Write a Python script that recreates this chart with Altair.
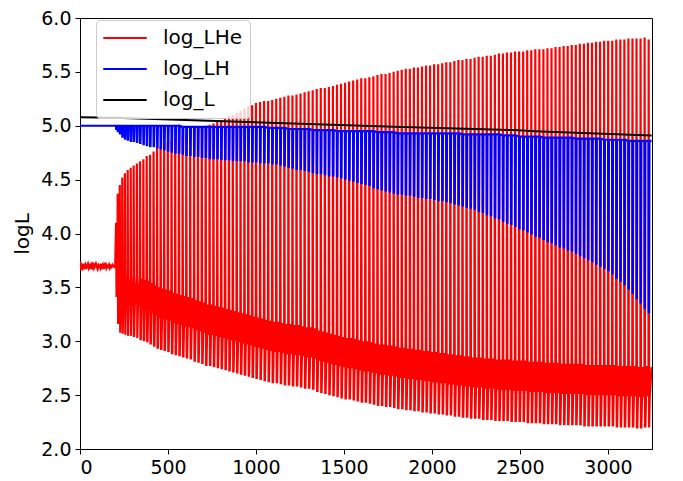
import altair as alt
import pandas as pd

SERIES = ["log_LHe", "log_LH", "log_L"]
COLORS = ["#ff0000", "#0000ff", "#000000"]

x_ticks = [0, 500, 1000, 1500, 2000, 2500, 3000]
y_ticks = [2.0, 2.5, 3.0, 3.5, 4.0, 4.5, 5.0, 5.5, 6.0]
end_step = 3248

# quiescent phase before the first thermal pulse
quiet_step = [0, 5, 10, 15, 20, 25, 30, 35, 40, 45, 50, 55, 60, 65, 70, 75, 80, 85, 90, 95,
              100, 105, 110, 115, 120, 125, 130, 135, 140, 145, 150, 155, 160, 165, 170, 175,
              180, 185, 190, 195, 200]
quiet_he = [3.74, 3.66, 3.70, 3.68, 3.72, 3.69, 3.71, 3.67, 3.70, 3.72, 3.68, 3.70, 3.67, 3.71,
            3.69, 3.73, 3.68, 3.70, 3.72, 3.69, 3.67, 3.71, 3.70, 3.68, 3.72, 3.69, 3.71, 3.67,
            3.70, 3.73, 3.68, 3.70, 3.69, 3.71, 3.68, 3.70, 3.69, 3.71, 3.70, 3.69, 3.70]
quiet_h_step = [0, 100, 200]
quiet_h = [5.00, 5.00, 5.00]

# total luminosity
lum_step = [0, 200, 950, 1786, 2468, 2582, 3248]
lum = [5.08, 5.075, 5.035, 4.99, 4.96, 4.95, 4.91]

# thermal pulses
pulse_step = [
    205, 214, 226, 240, 255, 271, 288, 305, 323, 341,
    360, 379, 398, 418, 438, 458, 478, 499, 520, 541,
    562, 583, 604, 626, 648, 670, 692, 714, 736, 758,
    780, 802, 824, 846, 868, 890, 912, 934, 956, 978,
    1000, 1023, 1046, 1069, 1092, 1115, 1138, 1161, 1184, 1207,
    1230, 1253, 1276, 1299, 1322, 1345, 1368, 1391, 1414, 1437,
    1460, 1483, 1506, 1529, 1552, 1575, 1598, 1621, 1644, 1667,
    1690, 1713, 1736, 1759, 1782, 1805, 1828, 1851, 1874, 1897,
    1920, 1943, 1966, 1989, 2012, 2035, 2058, 2081, 2104, 2127,
    2150, 2173, 2196, 2219, 2242, 2265, 2288, 2311, 2334, 2357,
    2380, 2403, 2426, 2449, 2472, 2495, 2518, 2541, 2564, 2587,
    2610, 2633, 2656, 2679, 2702, 2725, 2748, 2771, 2794, 2817,
    2840, 2863, 2886, 2909, 2932, 2955, 2978, 3001, 3024, 3047,
    3070, 3093, 3116, 3139, 3162, 3185, 3208, 3231]

he_peak = [
    4.10, 4.37, 4.45, 4.52, 4.56, 4.59, 4.61, 4.63, 4.65, 4.67,
    4.69, 4.72, 4.73, 4.76, 4.80, 4.81, 4.83, 4.85, 4.86, 4.88,
    4.89, 4.91, 4.92, 4.94, 4.95, 4.97, 4.98, 5.00, 5.01, 5.02,
    5.04, 5.05, 5.07, 5.09, 5.10, 5.12, 5.14, 5.16, 5.18, 5.19,
    5.21, 5.22, 5.23, 5.23, 5.24, 5.25, 5.26, 5.27, 5.28, 5.28,
    5.29, 5.30, 5.31, 5.32, 5.33, 5.34, 5.35, 5.35, 5.36, 5.37,
    5.38, 5.39, 5.40, 5.41, 5.42, 5.43, 5.44, 5.44, 5.45, 5.46,
    5.47, 5.48, 5.48, 5.49, 5.50, 5.51, 5.52, 5.53, 5.53, 5.54,
    5.54, 5.55, 5.56, 5.56, 5.57, 5.57, 5.58, 5.59, 5.59, 5.60,
    5.61, 5.61, 5.62, 5.62, 5.63, 5.64, 5.64, 5.65, 5.65, 5.66,
    5.67, 5.67, 5.68, 5.68, 5.69, 5.69, 5.69, 5.70, 5.70, 5.71,
    5.71, 5.71, 5.72, 5.72, 5.73, 5.73, 5.74, 5.74, 5.75, 5.75,
    5.76, 5.76, 5.77, 5.77, 5.78, 5.78, 5.79, 5.79, 5.79, 5.80,
    5.80, 5.80, 5.81, 5.81, 5.81, 5.81, 5.82, 5.80]

he_min = [
    3.41, 3.16, 3.08, 3.07, 3.06, 3.05, 3.05, 3.04, 3.03, 3.02,
    3.01, 3.00, 2.98, 2.96, 2.94, 2.93, 2.92, 2.91, 2.89, 2.88,
    2.87, 2.86, 2.85, 2.84, 2.82, 2.81, 2.80, 2.78, 2.78, 2.77,
    2.76, 2.75, 2.74, 2.73, 2.72, 2.71, 2.70, 2.69, 2.68, 2.67,
    2.66, 2.65, 2.64, 2.63, 2.62, 2.62, 2.61, 2.60, 2.60, 2.59,
    2.59, 2.58, 2.57, 2.57, 2.56, 2.54, 2.53, 2.52, 2.51, 2.50,
    2.49, 2.48, 2.47, 2.47, 2.46, 2.45, 2.44, 2.44, 2.43, 2.42,
    2.41, 2.41, 2.40, 2.40, 2.39, 2.38, 2.38, 2.37, 2.37, 2.36,
    2.36, 2.35, 2.35, 2.34, 2.34, 2.33, 2.33, 2.32, 2.32, 2.31,
    2.31, 2.30, 2.30, 2.29, 2.29, 2.29, 2.28, 2.28, 2.28, 2.27,
    2.27, 2.27, 2.27, 2.26, 2.26, 2.26, 2.26, 2.25, 2.25, 2.25,
    2.25, 2.24, 2.24, 2.24, 2.24, 2.23, 2.23, 2.23, 2.23, 2.23,
    2.23, 2.22, 2.22, 2.22, 2.22, 2.22, 2.22, 2.22, 2.22, 2.21,
    2.21, 2.21, 2.21, 2.21, 2.20, 2.20, 2.21, 2.20]

he_quiet_lo = [
    3.60, 3.45, 3.36, 3.35, 3.34, 3.33, 3.33, 3.32, 3.31, 3.30,
    3.29, 3.28, 3.26, 3.24, 3.22, 3.21, 3.20, 3.19, 3.17, 3.16,
    3.15, 3.14, 3.13, 3.12, 3.10, 3.09, 3.08, 3.06, 3.06, 3.05,
    3.04, 3.03, 3.02, 3.01, 3.00, 2.99, 2.98, 2.97, 2.96, 2.95,
    2.94, 2.93, 2.92, 2.91, 2.90, 2.90, 2.89, 2.88, 2.88, 2.87,
    2.87, 2.86, 2.85, 2.85, 2.84, 2.82, 2.81, 2.80, 2.79, 2.78,
    2.77, 2.76, 2.75, 2.75, 2.74, 2.73, 2.72, 2.72, 2.71, 2.70,
    2.69, 2.69, 2.68, 2.68, 2.67, 2.66, 2.66, 2.65, 2.65, 2.64,
    2.64, 2.63, 2.63, 2.62, 2.62, 2.61, 2.61, 2.60, 2.60, 2.59,
    2.59, 2.58, 2.58, 2.57, 2.57, 2.57, 2.56, 2.56, 2.56, 2.55,
    2.55, 2.55, 2.55, 2.54, 2.54, 2.54, 2.54, 2.53, 2.53, 2.53,
    2.53, 2.52, 2.52, 2.52, 2.52, 2.51, 2.51, 2.51, 2.51, 2.51,
    2.51, 2.50, 2.50, 2.50, 2.50, 2.50, 2.50, 2.50, 2.50, 2.49,
    2.49, 2.49, 2.49, 2.49, 2.48, 2.48, 2.49, 2.48]

he_quiet_hi = [
    3.75, 3.72, 3.66, 3.63, 3.62, 3.61, 3.61, 3.60, 3.59, 3.58,
    3.57, 3.56, 3.54, 3.52, 3.50, 3.49, 3.48, 3.47, 3.45, 3.44,
    3.43, 3.42, 3.41, 3.40, 3.38, 3.37, 3.36, 3.34, 3.34, 3.33,
    3.32, 3.31, 3.30, 3.29, 3.28, 3.27, 3.26, 3.25, 3.24, 3.23,
    3.22, 3.21, 3.20, 3.19, 3.18, 3.18, 3.17, 3.16, 3.16, 3.15,
    3.15, 3.14, 3.13, 3.13, 3.12, 3.10, 3.09, 3.08, 3.07, 3.06,
    3.05, 3.04, 3.03, 3.03, 3.02, 3.01, 3.00, 3.00, 2.99, 2.98,
    2.97, 2.97, 2.96, 2.96, 2.95, 2.94, 2.94, 2.93, 2.93, 2.92,
    2.92, 2.91, 2.91, 2.90, 2.90, 2.89, 2.89, 2.88, 2.88, 2.87,
    2.87, 2.86, 2.86, 2.85, 2.85, 2.85, 2.84, 2.84, 2.84, 2.83,
    2.83, 2.83, 2.83, 2.82, 2.82, 2.82, 2.82, 2.81, 2.81, 2.81,
    2.81, 2.80, 2.80, 2.80, 2.80, 2.79, 2.79, 2.79, 2.79, 2.79,
    2.79, 2.78, 2.78, 2.78, 2.78, 2.78, 2.78, 2.78, 2.78, 2.77,
    2.77, 2.77, 2.77, 2.77, 2.76, 2.76, 2.77, 2.76]

h_min = [
    4.97, 4.95, 4.93, 4.90, 4.88, 4.87, 4.86, 4.86, 4.85, 4.84,
    4.83, 4.82, 4.81, 4.81, 4.80, 4.79, 4.78, 4.77, 4.76, 4.75,
    4.75, 4.74, 4.73, 4.73, 4.72, 4.72, 4.71, 4.71, 4.70, 4.70,
    4.70, 4.69, 4.69, 4.69, 4.68, 4.68, 4.68, 4.68, 4.67, 4.67,
    4.67, 4.66, 4.66, 4.66, 4.65, 4.65, 4.64, 4.63, 4.62, 4.61,
    4.60, 4.60, 4.59, 4.58, 4.57, 4.56, 4.56, 4.55, 4.54, 4.54,
    4.53, 4.52, 4.51, 4.50, 4.49, 4.48, 4.47, 4.46, 4.45, 4.43,
    4.42, 4.41, 4.40, 4.39, 4.38, 4.37, 4.37, 4.36, 4.36, 4.35,
    4.34, 4.34, 4.33, 4.33, 4.32, 4.31, 4.31, 4.30, 4.29, 4.28,
    4.27, 4.26, 4.25, 4.24, 4.23, 4.21, 4.20, 4.18, 4.17, 4.15,
    4.14, 4.12, 4.10, 4.09, 4.07, 4.05, 4.04, 4.02, 4.00, 3.98,
    3.97, 3.95, 3.93, 3.92, 3.90, 3.88, 3.87, 3.85, 3.84, 3.82,
    3.80, 3.78, 3.76, 3.74, 3.72, 3.70, 3.68, 3.66, 3.63, 3.59,
    3.56, 3.53, 3.49, 3.45, 3.40, 3.36, 3.31, 3.27]

h_quiet = [
    5.00, 5.00, 5.00, 5.00, 5.00, 5.00, 5.00, 5.00, 5.00, 5.00,
    5.00, 5.00, 5.00, 5.00, 5.00, 5.00, 5.00, 5.00, 5.00, 5.00,
    5.00, 4.99, 4.99, 4.99, 4.99, 4.99, 4.99, 4.99, 4.99, 4.99,
    4.99, 4.99, 4.99, 4.99, 4.99, 4.99, 4.99, 4.99, 4.99, 4.99,
    4.99, 4.99, 4.99, 4.98, 4.98, 4.98, 4.98, 4.98, 4.97, 4.97,
    4.97, 4.97, 4.97, 4.97, 4.96, 4.96, 4.96, 4.96, 4.96, 4.96,
    4.95, 4.95, 4.95, 4.95, 4.95, 4.95, 4.95, 4.95, 4.95, 4.95,
    4.94, 4.94, 4.94, 4.94, 4.94, 4.93, 4.93, 4.93, 4.93, 4.93,
    4.93, 4.93, 4.93, 4.93, 4.93, 4.93, 4.93, 4.93, 4.93, 4.93,
    4.93, 4.92, 4.92, 4.92, 4.92, 4.92, 4.92, 4.92, 4.92, 4.92,
    4.92, 4.91, 4.91, 4.91, 4.91, 4.90, 4.90, 4.90, 4.90, 4.90,
    4.90, 4.89, 4.89, 4.89, 4.89, 4.89, 4.89, 4.89, 4.89, 4.88,
    4.88, 4.88, 4.88, 4.88, 4.88, 4.88, 4.87, 4.87, 4.87, 4.87,
    4.87, 4.87, 4.86, 4.86, 4.86, 4.86, 4.86, 4.86]

n = len(pulse_step)
for arr in (he_peak, he_min, he_quiet_lo, he_quiet_hi, h_min, h_quiet):
    assert len(arr) == n, len(arr)

# ---- build the three time series ----
he_rows = []
for s, v in zip(quiet_step, quiet_he):
    he_rows.append((s, v))
for k, t in enumerate(pulse_step):
    t_end = pulse_step[k + 1] - 1 if k + 1 < n else end_step
    he_rows.append((t, he_peak[k]))
    he_rows.append((t + 2.5, he_min[k]))
    if t_end - t >= 18:
        he_rows.append((t + 4.5, he_min[k]))
        he_rows.append((t + 8, he_quiet_lo[k]))
        he_rows.append((t + 12, he_quiet_hi[k]))
        he_rows.append((t + 16, he_quiet_lo[k]))
    else:
        he_rows.append((t + 6, he_quiet_lo[k]))
    he_rows.append((t_end, he_quiet_hi[k]))

h_rows = []
for s, v in zip(quiet_h_step, quiet_h):
    h_rows.append((s, v))
for k, t in enumerate(pulse_step):
    h_rows.append((t - 0.5, h_quiet[k]))
    h_rows.append((t + 0.5, h_min[k]))
    h_rows.append((t + 2.5, h_min[k]))
    h_rows.append((t + 4.5, h_quiet[k]))
h_rows.append((end_step, h_quiet[-1]))

l_rows = list(zip(lum_step, lum))


def frame(rows, name):
    return pd.DataFrame({
        "step": [r[0] for r in rows],
        "value": [r[1] for r in rows],
        "series": name,
        "idx": list(range(len(rows))),
    })


color = alt.Color(
    "series:N",
    scale=alt.Scale(domain=SERIES, range=COLORS),
    sort=SERIES,
    legend=alt.Legend(
        title=None, orient="none", legendX=16, legendY=2,
        symbolType="M-3,0H3", symbolSize=210, symbolStrokeWidth=2,
        symbolOffset=11, labelOffset=28,
        labelFontSize=20, labelFont="DejaVu Sans", labelColor="#000000",
        padding=8, rowPadding=11,
        fillColor="rgba(255,255,255,0.8)", strokeColor="#cccccc",
        cornerRadius=4,
    ),
)

x = alt.X("step:Q", scale=alt.Scale(domain=[0, 3250], nice=False, zero=False),
          axis=alt.Axis(values=x_ticks, title=None, format="d"))
y = alt.Y("value:Q", scale=alt.Scale(domain=[2.0, 6.0], nice=False, zero=False),
          axis=alt.Axis(values=y_ticks, format=".1f", title="logL"))


def layer(df, width):
    return alt.Chart(df).mark_line(strokeWidth=width, clip=True).encode(
        x=x, y=y, color=color, order=alt.Order("idx:Q"))


chart = alt.layer(
    layer(frame(he_rows, "log_LHe"), 2.2),
    layer(frame(h_rows, "log_LH"), 2.2),
    layer(frame(l_rows, "log_L"), 2),
).properties(
    width=572, height=431,
    autosize=alt.AutoSizeParams(type="none"),
    padding={"left": 72, "top": 10, "right": 23, "bottom": 30},
).configure_view(
    stroke="#000000", strokeWidth=1
).configure_axis(
    grid=False, domainColor="#000000", domainWidth=1,
    tickColor="#000000", tickSize=5, tickWidth=1,
    labelFont="DejaVu Sans", labelFontSize=19, labelColor="#000000",
    titleFont="DejaVu Sans", titleFontSize=20, titleFontWeight="normal",
    titleColor="#000000", labelPadding=4,
).configure_axisY(
    titlePadding=8,
)

chart.save("out.html", embed_options={"renderer": "svg", "actions": False})
